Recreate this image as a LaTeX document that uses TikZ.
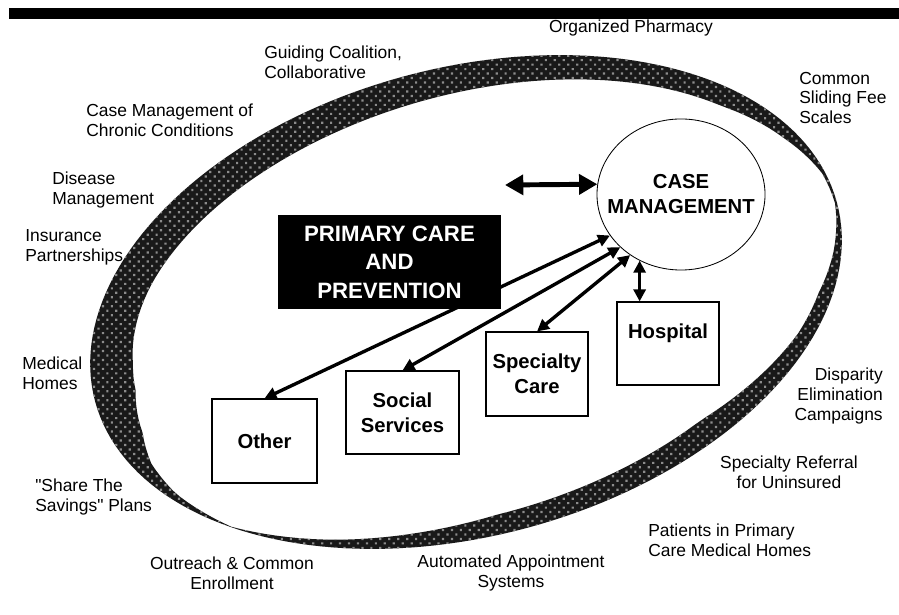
\documentclass[tikz,border=0pt]{standalone}
\usepackage{fontspec}
\setmainfont{Liberation Sans}
\usetikzlibrary{arrows.meta,shapes.geometric,patterns.meta}

\newcommand{\lblfont}{\fontsize{12.4}{14.2}\selectfont}
\newcommand{\boxfont}{\bfseries\fontsize{14.4}{17.8}\selectfont}
\newcommand{\pcfont}{\bfseries\fontsize{15.8}{20.2}\selectfont}

\pgfmathdeclarefunction{bandw}{1}{%
  \begingroup
  \pgfmathsetmacro\bandt{#1}%
  \pgfmathparse{\bandt<8 ? 2+\bandt/8 : (\bandt<20 ? 3+9*(\bandt-8)/12 : (\bandt<35 ? 12+8*(\bandt-20)/15 :
    (\bandt<67 ? 20+5*(\bandt-35)/32 : (\bandt<117 ? 25+8*(\bandt-67)/50 : (\bandt<150 ? 33+5*(\bandt-117)/33 :
    (\bandt<172 ? 38+5*(\bandt-150)/22 : (\bandt<180 ? 43-(\bandt-172)/8 : (\bandt<192 ? 42-12*(\bandt-180)/12 :
    (\bandt<200 ? 30-14*(\bandt-192)/8 : (\bandt<209 ? 16-9*(\bandt-200)/9 : (\bandt<222 ? 7-6.5*(\bandt-209)/13 :
    (\bandt<240 ? 0.5+7.5*(\bandt-222)/18 : (\bandt<255 ? 8+7*(\bandt-240)/15 : (\bandt<266 ? 15+5*(\bandt-255)/11 :
    (\bandt<303 ? 20+5*(\bandt-266)/37 : (\bandt<328 ? 25-10*(\bandt-303)/25 : (\bandt<338 ? 15-(\bandt-328)/10 :
    (\bandt<348 ? 14-6*(\bandt-338)/10 : 8-6*(\bandt-348)/12))))))))))))))))))}%
  \pgfmathsmuggle\pgfmathresult
  \endgroup}

\begin{document}
\begin{tikzpicture}[x=0.025cm,y=-0.025cm,
  lbl/.style={font=\lblfont, inner sep=0pt},
  box/.style={draw, line width=0.8pt, font=\boxfont, align=center, inner sep=0pt},
  link/.style={{Triangle[length=8.5pt,width=8.5pt]}-{Triangle[length=8.5pt,width=8.5pt]}, line width=2.4pt},
  biglink/.style={{Triangle[length=13pt,width=14pt]}-{Triangle[length=13pt,width=14pt]}, line width=3.5pt}]
\useasboundingbox (0,0) rectangle (899,615);
\fill (9,8) rectangle (899,19);

\fill[black!90, even odd rule,
  postaction={pattern={Dots[distance=4.5pt,radius=1.1pt,angle=45]}, pattern color=black!45, even odd rule}]
  plot[domain=0:360, samples=181, variable=\ang]
    ({466+384*cos(\ang)*cos(15)-234*sin(\ang)*sin(15)}, {302-384*cos(\ang)*sin(15)-234*sin(\ang)*cos(15)}) -- cycle
  plot[domain=0:360, samples=181, variable=\ang]
    ({466+(384-bandw(\ang))*cos(\ang)*cos(15)-(234-bandw(\ang))*sin(\ang)*sin(15)},
     {302-(384-bandw(\ang))*cos(\ang)*sin(15)-(234-bandw(\ang))*sin(\ang)*cos(15)}) -- cycle;

\node[lbl] (pharm) at (631,28) {Organized Pharmacy};
\node[lbl, anchor=west, align=left] (coal) at (264,62) {Guiding Coalition,\\Collaborative};
\node[lbl, anchor=west, align=left] (chron) at (86,120) {Case Management of\\Chronic Conditions};
\node[lbl, anchor=west, align=left] (dis) at (52,190) {Disease\\Management};
\node[lbl, anchor=west, align=left] (ins) at (25,247) {Insurance\\Partnerships};
\node[lbl, anchor=west, align=left] (medh) at (22,373) {Medical\\Homes};
\node[lbl, anchor=west, align=left] (share) at (35,497) {\textquotedbl Share The\\Savings\textquotedbl{} Plans};
\node[lbl, align=center] (outr) at (232,573) {Outreach \& Common\\Enrollment};
\node[lbl, align=center] (auto) at (511,573) {Automated Appointment\\Systems};
\node[lbl, anchor=west, align=left] (pat) at (648,540) {Patients in Primary\\Care Medical Homes};
\node[lbl, align=center] (ref) at (789,472) {Specialty Referral\\for Uninsured};
\node[lbl, anchor=east, align=right] (disp) at (883,396) {Disparity\\Elimination\\Campaigns};
\node[lbl, anchor=west, align=left] (slide) at (799,98) {Common\\Sliding Fee\\Scales};

\node[draw, ellipse, line width=0.6pt, minimum width=4.2cm, minimum height=3.775cm, inner sep=0pt,
  label={[font=\boxfont, align=center]center:CASE\\MANAGEMENT}] (cm) at (681,194.5) {};
\node[box, minimum width=2.625cm, minimum height=2.1cm] (other) at (264.5,441) {Other};
\node[box, minimum width=2.825cm, minimum height=2.075cm] (soc) at (402.5,412.5) {Social\\Services};
\node[box, minimum width=2.55cm, minimum height=2.1cm] (spec) at (537,374) {Specialty\\Care};
\node[box, minimum width=2.55cm, minimum height=2.075cm, text depth=0.63cm] (hosp) at (668,343.5) {Hospital};
\coordinate (lft) at (505,185);

\draw[biglink] (lft) -- (cm.173);
\draw[link] (cm.210) -- (other.north);
\draw[link] (cm.221) -- (soc.north);
\draw[link] (cm.230) -- (spec.north);
\draw[link] (cm.238) -- (cm.238 |- hosp.north);

\node[fill=black, text=white, font=\pcfont, align=center, minimum width=5.575cm, minimum height=2.35cm,
  inner sep=0pt] (pc) at (389.5,262) {PRIMARY CARE\\AND\\PREVENTION};
\end{tikzpicture}
\end{document}
